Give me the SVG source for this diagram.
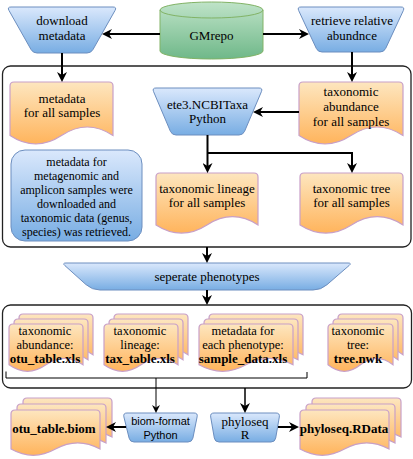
<svg xmlns="http://www.w3.org/2000/svg" width="413" height="459" viewBox="0 0 413 459">
<style>
.t{font-family:"Liberation Serif","Times New Roman",serif;font-size:13px;text-anchor:middle;fill:#000}
.b{font-weight:bold}
.s{font-size:12px}
.m{font-size:12.5px}
.sans{font-family:"Liberation Sans",Arial,sans-serif;font-size:11px}
.blue{fill:url(#gBlue);stroke:#6c8ebf;stroke-width:1}
.doc{fill:url(#gOr);stroke:#c8a0c8;stroke-width:1.2}
.cnt{fill:#fff;stroke:#222;stroke-width:1.3}
.c{fill:none;stroke:#000;stroke-width:2}
.c1{fill:none;stroke:#000;stroke-width:1}
.c15{fill:none;stroke:#000;stroke-width:1.5}
</style>
<defs>
<linearGradient id="gBlue" x1="0" y1="0" x2="0" y2="1"><stop offset="0" stop-color="#dae8fc"/><stop offset="1" stop-color="#78ade3"/></linearGradient>
<linearGradient id="gOr" x1="0" y1="0" x2="0" y2="1"><stop offset="0" stop-color="#fde6bf"/><stop offset="1" stop-color="#ffb45c"/></linearGradient>
<linearGradient id="gGreen" x1="0" y1="0" x2="0" y2="1"><stop offset="0" stop-color="#bfe3c8"/><stop offset="1" stop-color="#6fb889"/></linearGradient>
<marker id="ah" viewBox="0 0 10 10" refX="3" refY="5" markerWidth="10" markerHeight="10" markerUnits="userSpaceOnUse" orient="auto"><path d="M0,0 L10,5 L0,10 L3,5 Z" fill="#000"/></marker>
<marker id="ahs" viewBox="0 0 8 8" refX="2.5" refY="4" markerWidth="8" markerHeight="8" markerUnits="userSpaceOnUse" orient="auto"><path d="M0,0 L8,4 L0,8 L2.5,4 Z" fill="#000"/></marker>
<path id="pg74" d="M0,4 Q0,0 4,0 H70 Q74,0 74,4 V40.8 Q55.5,27.8 37,40.8 Q18.5,53.8 0,40.8 Z"/>
<path id="pg94" d="M0,4 Q0,0 4,0 H90 Q94,0 94,4 V40.8 Q70.5,27.8 47,40.8 Q23.5,53.8 0,40.8 Z"/>
<path id="pg65" d="M0,4 Q0,0 4,0 H61 Q65,0 65,4 V40.8 Q48.75,27.8 32.5,40.8 Q16.25,53.8 0,40.8 Z"/>
<path id="pg89" d="M0,4 Q0,0 4,0 H85 Q89,0 89,4 V39.1 Q66.75,26.7 44.5,39.1 Q22.25,51.5 0,39.1 Z"/>
</defs>
<rect width="413" height="459" fill="#fff"/>
<g id="containers">
<rect class="cnt" x="2.5" y="66" width="408.5" height="181" rx="8"/>
<rect class="cnt" x="2.5" y="305" width="409" height="83" rx="8"/>
</g>
<g id="gmrepo">
<path d="M160,10 A51.5,8 0 0 1 263,10 V51 A51.5,8 0 0 1 160,51 Z" fill="url(#gGreen)" stroke="#82b366" stroke-width="1"/>
<path d="M160,10 A51.5,8 0 0 0 263,10" fill="none" stroke="#82b366" stroke-width="1"/>
<text class="t" x="211.5" y="39.5">GMrepo</text>
</g>
<g id="download">
<path class="blue" d="M11,7 H113 Q117,7 115,10.5 L93,49.5 Q91,53 87,53 H37 Q33,53 31,49.5 L9,10.5 Q7,7 11,7 Z"/>
<text class="t" x="62" y="25">download</text>
<text class="t" x="62" y="40">metadata</text>
</g>
<g id="retrieve">
<path class="blue" d="M301,7 H401 Q405,7 403.3,10.6 L385.7,48.4 Q384,52 380,52 H322 Q318,52 316.3,48.4 L298.7,10.6 Q297,7 301,7 Z"/>
<text class="t" x="352" y="25">retrieve relative</text>
<text class="t" x="352" y="40">abundnce</text>
</g>
<g id="metadata-all">
<path class="doc" d="M10,86 Q10,82 14,82 H109 Q113,82 113,86 V135.5 Q87.25,118.5 61.5,135.5 Q35.75,152.5 10,135.5 Z"/>
<text class="t" x="62" y="102.5">metadata</text>
<text class="t" x="62" y="117">for all samples</text>
</g>
<g id="tax-abundance">
<path class="doc" d="M299,86 Q299,82 303,82 H399 Q403,82 403,86 V135.5 Q377,118.5 351,135.5 Q325,152.5 299,135.5 Z"/>
<text class="t" x="351" y="96">taxonomic</text>
<text class="t" x="351" y="111">abundance</text>
<text class="t" x="351" y="126">for all samples</text>
</g>
<g id="ete3">
<path class="blue" d="M156,88 H259 Q263,88 261.4,91.7 L244.6,131.3 Q243,135 239,135 H176 Q172,135 170.4,131.3 L153.6,91.7 Q152,88 156,88 Z"/>
<text class="t" x="207.5" y="108.5">ete3.NCBITaxa</text>
<text class="t" x="207.5" y="123">Python</text>
</g>
<g id="tax-lineage">
<path class="doc" d="M156,177 Q156,173 160,173 H254 Q258,173 258,177 V224.9 Q232.5,208.4 207,224.9 Q181.5,241.3 156,224.9 Z"/>
<text class="t" x="207" y="192.5">taxonomic lineage</text>
<text class="t" x="207" y="207">for all samples</text>
</g>
<g id="tax-tree">
<path class="doc" d="M300,177 Q300,173 304,173 H399 Q403,173 403,177 V224.9 Q377.25,208.4 351.5,224.9 Q325.75,241.3 300,224.9 Z"/>
<text class="t" x="351.5" y="192.5">taxonomic tree</text>
<text class="t" x="351.5" y="207">for all samples</text>
</g>
<g id="note">
<rect class="blue" x="11" y="150" width="131" height="91" rx="14"/>
<text class="t s" x="76.5" y="166">metadata for</text>
<text class="t s" x="76.5" y="180">metagenomic and</text>
<text class="t s" x="76.5" y="194">amplicon samples were</text>
<text class="t s" x="76.5" y="208">downloaded and</text>
<text class="t s" x="76.5" y="222">taxonomic data (genus,</text>
<text class="t s" x="76.5" y="236">species) was retrieved.</text>
</g>
<g id="separate">
<path class="blue" d="M66,263 H348 Q352,263 349,265.6 L327,284.7 Q321,290 313,290 H100 Q92,290 86,284.6 L65,265.7 Q62,263 66,263 Z"/>
<text class="t" x="207" y="280.5">seperate phenotypes</text>
</g>
<g id="otu-xls">
<use href="#pg74" class="doc" x="19" y="314"/>
<use href="#pg74" class="doc" x="14" y="319"/>
<use href="#pg74" class="doc" x="9" y="324"/>
<text class="t m" x="45" y="334.5">taxonomic</text>
<text class="t m" x="45" y="348.5">abundance:</text>
<text class="t b" x="45" y="363">otu_table.xls</text>
</g>
<g id="tax-xls">
<use href="#pg74" class="doc" x="114" y="314"/>
<use href="#pg74" class="doc" x="109" y="319"/>
<use href="#pg74" class="doc" x="104" y="324"/>
<text class="t m" x="140" y="334.5">taxonomic</text>
<text class="t m" x="140" y="348.5">lineage:</text>
<text class="t b" x="140" y="363">tax_table.xls</text>
</g>
<g id="sample-xls">
<use href="#pg94" class="doc" x="209" y="314"/>
<use href="#pg94" class="doc" x="204" y="319"/>
<use href="#pg94" class="doc" x="199" y="324"/>
<text class="t m" x="243" y="334.5">metadata for</text>
<text class="t m" x="243" y="348.5">each phenotype:</text>
<text class="t b" x="243" y="363">sample_data.xls</text>
</g>
<g id="tree-nwk">
<use href="#pg65" class="doc" x="338" y="314"/>
<use href="#pg65" class="doc" x="333" y="319"/>
<use href="#pg65" class="doc" x="328" y="324"/>
<text class="t m" x="358" y="334.5">taxonomic</text>
<text class="t m" x="358" y="348.5">tree:</text>
<text class="t b" x="358" y="363">tree.nwk</text>
</g>
<g id="biom-format">
<path class="blue" d="M127,413 H194 Q198,413 197.1,416.9 L192.9,438.1 Q192,442 188,442 H134 Q130,442 129.1,438.1 L123.9,416.9 Q123,413 127,413 Z"/>
<text class="t sans" x="160.5" y="425">biom-format</text>
<text class="t sans" x="160.5" y="439">Python</text>
</g>
<g id="phyloseq">
<path class="blue" d="M214,413 H276 Q280,413 279.3,417 L275.7,438 Q275,442 271,442 H219 Q215,442 214.3,438 L210.7,417 Q210,413 214,413 Z"/>
<text class="t" x="245" y="425.5">phyloseq</text>
<text class="t" x="245" y="439">R</text>
</g>
<g id="otu-biom">
<use href="#pg89" class="doc" x="23" y="398"/>
<use href="#pg89" class="doc" x="17" y="404"/>
<use href="#pg89" class="doc" x="11" y="410"/>
<text class="t b" x="54" y="432.5">otu_table.biom</text>
</g>
<g id="phyloseq-rdata">
<use href="#pg89" class="doc" x="312" y="398"/>
<use href="#pg89" class="doc" x="306" y="404"/>
<use href="#pg89" class="doc" x="300" y="410"/>
<text class="t b" x="344" y="432.5">phyloseq.RData</text>
</g>
<g id="connectors">
<path class="c" d="M160,34 H109" marker-end="url(#ah)"/>
<path class="c" d="M263,34 H302" marker-end="url(#ah)"/>
<path class="c" d="M62,53 V75" marker-end="url(#ah)"/>
<path class="c" d="M352,52 V75" marker-end="url(#ah)"/>
<path class="c" d="M299,112 H260" marker-end="url(#ah)"/>
<path class="c" d="M207.5,135 V166" marker-end="url(#ah)"/>
<path class="c" d="M207.5,153 H352 V166" marker-end="url(#ah)"/>
<path class="c" d="M207,247 V256" marker-end="url(#ah)"/>
<path class="c" d="M207,290 V298" marker-end="url(#ah)"/>
<path class="c1" d="M6,371.5 V378 H307 V372"/>
<path class="c1" d="M156,378 V407.5" marker-end="url(#ahs)"/>
<path class="c15" d="M245,388 V406" marker-end="url(#ah)"/>
<path class="c" d="M126,427 H113" marker-end="url(#ah)"/>
<path class="c" d="M278,427 H292" marker-end="url(#ah)"/>
</g>
</svg>
